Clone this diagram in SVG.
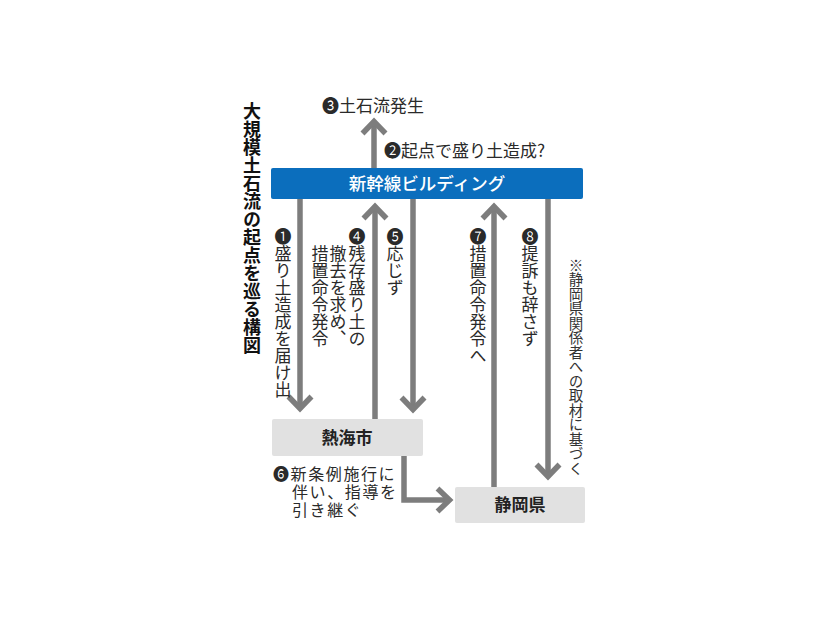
<svg xmlns="http://www.w3.org/2000/svg" width="826" height="620" viewBox="0 0 826 620">
<defs>
<style>
text{font-family:"Noto Sans CJK JP","Noto Sans",sans-serif;fill:#2a2a2a}
.lbl{font-size:17px}
.lbl6{font-family:"Liberation Sans","Noto Sans CJK JP",sans-serif;font-size:16px;letter-spacing:1.6px}
.vt{font-size:17px;writing-mode:vertical-rl}
.title{font-size:18px;font-weight:bold;writing-mode:vertical-rl;fill:#111}
.note{font-size:14.5px;writing-mode:vertical-rl;fill:#333}
.box{fill:#e1e1e1}
.boxt{font-size:17px;font-weight:bold;text-anchor:middle;fill:#222}
.conn{fill:none;stroke:#7d7d7d;stroke-width:5.5;stroke-linejoin:miter}
</style>
<marker id="ah" markerUnits="userSpaceOnUse" markerWidth="40" markerHeight="40" viewBox="-20 -20 40 40" refX="0" refY="0" orient="auto" overflow="visible">
<path d="M-12,-11.5 L0,0 L-12,11.5" fill="none" stroke="#7d7d7d" stroke-width="5.5" stroke-linejoin="miter"/>
</marker>
</defs>
<rect width="826" height="620" fill="#ffffff"/>

<g id="title">
<text class="title" x="252" y="102">大規模土石流の起点を巡る構図</text>
</g>

<g id="connectors">
<path class="conn" d="M374,168 V121.5" marker-end="url(#ah)"/>
<path class="conn" d="M300,199 V408.5" marker-end="url(#ah)"/>
<path class="conn" d="M375,419 V206.5" marker-end="url(#ah)"/>
<path class="conn" d="M413,199 V409.5" marker-end="url(#ah)"/>
<path class="conn" d="M404,456 V500 H449.5" marker-end="url(#ah)"/>
<path class="conn" d="M494,487 V206.5" marker-end="url(#ah)"/>
<path class="conn" d="M548,199 V476.5" marker-end="url(#ah)"/>
</g>

<g id="node-building">
<rect x="271" y="168" width="312" height="31" rx="2" fill="#0b6ebd"/>
<text x="427" y="190" font-size="17.5" text-anchor="middle" style="fill:#ffffff;font-weight:500">新幹線ビルディング</text>
</g>

<g id="node-atami">
<rect class="box" x="272" y="419" width="151" height="37" rx="2"/>
<text class="boxt" x="347" y="444">熱海市</text>
</g>

<g id="node-shizuoka">
<rect class="box" x="455" y="487" width="130" height="36" rx="2"/>
<text class="boxt" x="520" y="511">静岡県</text>
</g>

<g id="labels">
<text class="lbl" x="322" y="112" font-size="17.5">❸土石流発生</text>
<text class="lbl" x="384" y="157">❷起点で盛り土造成?</text>
<text class="vt" x="283" y="228">❶盛り土造成を届け出</text>
<text class="vt" x="357" y="228">❹残存盛り土の</text>
<text class="vt" x="338" y="245">撤去を求め、</text>
<text class="vt" x="320" y="245">措置命令発令</text>
<text class="vt" x="395" y="228">❺応じず</text>
<text class="vt" x="478" y="228">❼措置命令発令へ</text>
<text class="vt" x="530" y="228">❽提訴も辞さず</text>
<text class="lbl6" x="273" y="480">❻新条例施行に</text>
<text class="lbl6" x="292" y="498">伴い、指導を</text>
<text class="lbl6" x="292" y="516">引き継ぐ</text>
<text class="note" x="576" y="258">※静岡県関係者への取材に基づく</text>
</g>
</svg>
